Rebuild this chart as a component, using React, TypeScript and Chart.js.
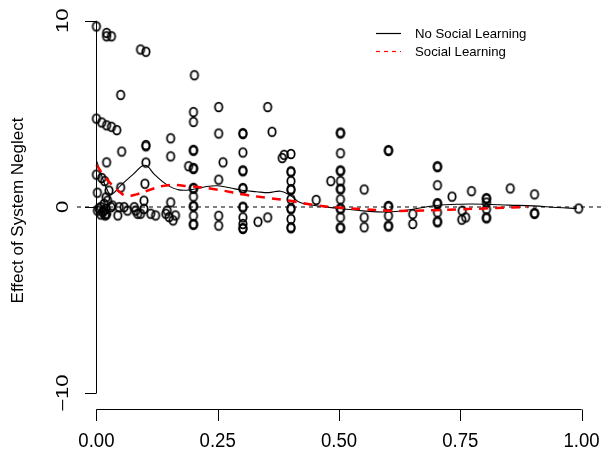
import { useEffect, useRef } from "react";
import { Chart, registerables } from "chart.js";

Chart.register(...registerables);

// Axis ticks and labels
const xTicks = [0, 0.25, 0.5, 0.75, 1];
const xTickLabels = ["0.00", "0.25", "0.50", "0.75", "1.00"];
const yTicks = [-10, 0, 10];
const yTickLabels = ["\u221210", "0", "10"];
const yTitle = "Effect of System Neglect";
const seriesNames = ["No Social Learning", "Social Learning"];

// Observations (share of informed agents vs. effect of system neglect)
const obsX = [
  0.0, 0.021, 0.021, 0.031, 0.091, 0.102, 0.05, 0.202,
  0.0, 0.011, 0.021, 0.031, 0.042, 0.052, 0.021, 0.0, 0.011, 0.017, 0.05, 0.002, 0.02, 0.026,
  0.002, 0.009, 0.013, 0.016, 0.02, 0.021, 0.023, 0.018, 0.03, 0.033, 0.044, 0.047, 0.057, 0.064,
  0.078, 0.081, 0.085, 0.091, 0.098, 0.098, 0.112, 0.122, 0.143, 0.146, 0.153, 0.15, 0.158, 0.163,
  0.005, 0.015, 0.02, 0.009,
  0.102, 0.102, 0.102, 0.1, 0.153, 0.153,
  0.2, 0.2, 0.2, 0.2, 0.2, 0.2, 0.2, 0.2, 0.2, 0.2, 0.2, 0.2, 0.2, 0.2, 0.19,
  0.252, 0.252, 0.252, 0.252, 0.252, 0.261,
  0.302, 0.302, 0.302, 0.302, 0.302, 0.302, 0.302, 0.302, 0.302, 0.302, 0.302, 0.302, 0.302,
  0.333, 0.353, 0.353, 0.362, 0.383, 0.401, 0.387,
  0.401, 0.401, 0.401, 0.401, 0.401, 0.401, 0.401, 0.401, 0.401, 0.401, 0.401,
  0.453, 0.483,
  0.503, 0.503, 0.503, 0.503, 0.503, 0.503, 0.503, 0.503, 0.503, 0.503, 0.503, 0.503, 0.503, 0.503,
  0.552, 0.552, 0.552,
  0.602, 0.602, 0.602, 0.602, 0.602, 0.602, 0.602, 0.652, 0.652,
  0.703, 0.703, 0.703, 0.703, 0.703, 0.703, 0.703, 0.703,
  0.733, 0.754, 0.761, 0.753, 0.773,
  0.804, 0.804, 0.804, 0.804, 0.804, 0.804,
  0.853, 0.903, 0.903, 0.903, 0.994,
];
const obsY = [
  9.7, 9.35, 9.17, 9.17, 8.46, 8.34, 6.02, 7.08,
  4.75, 4.54, 4.39, 4.31, 4.13, 2.98, 2.4, 1.74, 1.56, 1.39, 1.05, 0.77, 0.52, 0.88,
  -0.19, -0.01, -0.28, 0.17, -0.1, -0.36, 0.34, -0.45, -0.01, 0.08, -0.45, -0.01, -0.01, -0.19,
  -0.01, -0.19, -0.36, -0.36, -0.1, 0.34, -0.36, -0.45, -0.36, -0.19, 0.25, -0.54, -0.72, -0.45,
  -0.08, -0.19, -0.4, -0.4,
  3.33, 3.26, 2.39, 1.25, 3.69, 2.72,
  5.1, 4.57, 3.07, 3.02, 2.1, 2.04, 1.03, 0.98, 0.56, 0.06, 0.02, -0.47, -0.91, -0.96, 2.19,
  5.37, 3.95, 1.47, -0.47, -1.0, 2.4,
  3.92, 3.97, 2.93, 1.92, 1.97, 0.98, 1.02, -0.03, 0.02, -0.56, -0.91, -1.18, -1.13,
  -0.79, -0.56, 5.37, 4.04, 2.63, 2.85, 2.8,
  1.87, 1.92, 1.39, 0.91, 0.96, 0.41, -0.12, -0.07, -0.65, -1.09, -1.14,
  0.38, 1.39,
  3.95, 4.0, 2.89, 1.92, 1.97, 1.39, 0.94, 0.99, 0.41, -0.12, -0.07, -0.56, -1.09, -1.14,
  0.94, -0.56, -1.09,
  3.01, 3.06, 0.06, 0.01, -0.47, -1.0, -1.05, -0.38, -0.91,
  2.19, 2.14, 1.17, 0.21, 0.16, -0.29, -0.77, -0.82,
  0.56, -0.2, -0.56, -0.68, 0.85,
  0.48, 0.43, 0.24, -0.12, -0.56, -0.61,
  1.0, 0.68, -0.32, -0.37, -0.08,
];

// Smoothed fits
const noSocialX = [0, 0.01, 0.02, 0.03, 0.05, 0.075, 0.1, 0.12, 0.145, 0.17, 0.2, 0.225, 0.25, 0.275, 0.3, 0.33, 0.355, 0.38, 0.4, 0.42, 0.45, 0.5, 0.55, 0.6, 0.65, 0.7, 0.75, 0.8, 0.85, 0.9, 0.95, 0.99];
const noSocialY = [2.5, 1.75, 1.05, 0.68, 1.15, 1.74, 2.24, 1.74, 1.2, 0.92, 0.95, 1.09, 1.14, 1.03, 0.9, 0.82, 0.77, 0.85, 0.61, 0.24, 0.08, -0.08, -0.21, -0.27, -0.13, 0.08, 0.15, 0.15, 0.1, 0.06, -0.03, -0.08];
const socialX = [0, 0.014, 0.031, 0.048, 0.062, 0.083, 0.103, 0.144, 0.19, 0.25, 0.3, 0.35, 0.4, 0.45, 0.5, 0.55, 0.6, 0.65, 0.7, 0.75, 0.8, 0.85, 0.89];
const socialY = [2.27, 1.74, 1.21, 0.81, 0.59, 0.68, 0.86, 1.16, 1.12, 0.93, 0.68, 0.5, 0.33, 0.1, -0.03, -0.12, -0.2, -0.2, -0.17, -0.12, -0.08, -0.03, 0.0];

const zeroLineX = [-0.04, 1.04];

const FONT = "'Liberation Sans', Arial, Helvetica, sans-serif";

function makeRing(): HTMLCanvasElement {
  const c = document.createElement("canvas");
  c.width = 12;
  c.height = 14;
  const g = c.getContext("2d")!;
  g.strokeStyle = "#000";
  g.lineWidth = 1.75;
  g.beginPath();
  g.ellipse(6, 7, 3.7, 4.4, 0, 0, Math.PI * 2);
  g.stroke();
  return c;
}

function drawText(
  ctx: CanvasRenderingContext2D,
  text: string,
  x: number,
  y: number,
  size: number,
  sx: number,
  sy: number,
  rot: number,
  align: CanvasTextAlign
) {
  ctx.save();
  ctx.translate(x, y);
  if (rot) ctx.rotate(rot);
  ctx.scale(sx, sy);
  ctx.font = `${size}px ${FONT}`;
  ctx.fillStyle = "#000";
  ctx.textAlign = align;
  ctx.textBaseline = "alphabetic";
  ctx.fillText(text, 0, 0);
  ctx.restore();
}

const axesPlugin = {
  id: "baseAxes",
  afterDraw(chart: any) {
    const ctx: CanvasRenderingContext2D = chart.ctx;
    const xs = chart.scales.x;
    const ys = chart.scales.y;
    const area = chart.chartArea;
    const tick = 11.5;
    ctx.save();
    ctx.strokeStyle = "#000";
    ctx.lineWidth = 1;

    // bottom axis
    const yAxis = Math.round(area.bottom) + 0.5;
    const x0 = xs.getPixelForValue(xTicks[0]);
    const x1 = xs.getPixelForValue(xTicks[xTicks.length - 1]);
    ctx.beginPath();
    ctx.moveTo(x0, yAxis);
    ctx.lineTo(x1, yAxis);
    xTicks.forEach((v) => {
      const px = Math.round(xs.getPixelForValue(v)) + 0.5;
      ctx.moveTo(px, yAxis);
      ctx.lineTo(px, yAxis + tick);
    });
    ctx.stroke();
    xTicks.forEach((v, i) => {
      drawText(ctx, xTickLabels[i], xs.getPixelForValue(v), yAxis + 37.5, 20, 0.93, 1.05, 0, "center");
    });

    // left axis, placed at x = 0
    const xAxis = Math.round(xs.getPixelForValue(0)) + 0.5;
    const yTop = ys.getPixelForValue(yTicks[yTicks.length - 1]);
    const yBot = ys.getPixelForValue(yTicks[0]);
    ctx.beginPath();
    ctx.moveTo(xAxis, yTop);
    ctx.lineTo(xAxis, yBot);
    yTicks.forEach((v) => {
      const py = Math.round(ys.getPixelForValue(v)) + 0.5;
      ctx.moveTo(xAxis, py);
      ctx.lineTo(xAxis - tick, py);
    });
    ctx.stroke();
    yTicks.forEach((v, i) => {
      drawText(ctx, yTickLabels[i], xAxis - 28.5, ys.getPixelForValue(v), 22, 1.0, 0.72, -Math.PI / 2, "center");
    });

    // axis title
    drawText(ctx, yTitle, 23, (area.top + area.bottom) / 2 + 3.5, 17, 1, 1, -Math.PI / 2, "center");

    // legend
    const lx = area.right - 225;
    const rows = [33.5, 51.5];
    const colors = ["#000000", "#ff0000"];
    const dashes = [[], [4, 4]];
    rows.forEach((ry, i) => {
      ctx.save();
      ctx.strokeStyle = colors[i];
      ctx.lineWidth = 1.2;
      ctx.setLineDash(dashes[i]);
      ctx.beginPath();
      ctx.moveTo(lx, ry);
      ctx.lineTo(lx + 25, ry);
      ctx.stroke();
      ctx.restore();
      drawText(ctx, seriesNames[i], lx + 39, ry + 4.7, 13.2, 1, 1, 0, "left");
    });
    ctx.restore();
  },
};

export default function App() {
  const ref = useRef<HTMLCanvasElement | null>(null);

  useEffect(() => {
    if (!ref.current) return;
    const ring = makeRing();
    const chart = new Chart(ref.current, {
      type: "scatter",
      data: {
        datasets: [
          {
            type: "line",
            label: seriesNames[0],
            data: noSocialX.map((x, i) => ({ x, y: noSocialY[i] })),
            borderColor: "#000",
            borderWidth: 1.1,
            pointRadius: 0,
            tension: 0.4,
            fill: false,
            order: 1,
          },
          {
            type: "line",
            label: seriesNames[1],
            data: socialX.map((x, i) => ({ x, y: socialY[i] })),
            borderColor: "#ff0000",
            borderWidth: 2.5,
            borderDash: [9, 7],
            pointRadius: 0,
            tension: 0.4,
            fill: false,
            order: 0,
          },
          {
            type: "scatter",
            label: "observations",
            data: obsX.map((x, i) => ({ x, y: obsY[i] })),
            pointStyle: ring,
            pointRadius: 4,
            order: 2,
            clip: false,
          },
          {
            type: "line",
            label: "zero",
            data: zeroLineX.map((x) => ({ x, y: 0 })),
            borderColor: "#000",
            borderWidth: 1,
            borderDash: [4, 4],
            pointRadius: 0,
            order: 3,
          },
        ],
      },
      options: {
        responsive: false,
        animation: false,
        events: [],
        layout: { padding: { left: 77, right: 3.5, top: 0, bottom: 50 } },
        scales: {
          x: { type: "linear", min: -0.04, max: 1.04, display: false },
          y: { type: "linear", min: -10.85, max: 10.85, display: false },
        },
        plugins: {
          legend: { display: false },
          tooltip: { enabled: false },
          title: { display: false },
        },
      },
      plugins: [axesPlugin],
    });
    return () => chart.destroy();
  }, []);

  return (
    <div style={{ position: "fixed", left: 0, top: 0, width: 606, height: 459, background: "#fff" }}>
      <canvas ref={ref} width={606} height={459} />
    </div>
  );
}
